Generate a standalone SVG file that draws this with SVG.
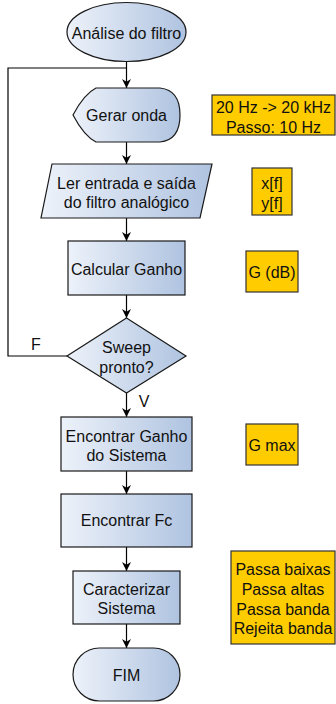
<svg xmlns="http://www.w3.org/2000/svg" width="336" height="704" viewBox="0 0 336 704">
<defs>
<linearGradient id="g" x1="0" y1="0" x2="1" y2="0">
<stop offset="0" stop-color="#edf2fa"/>
<stop offset="1" stop-color="#afc3e0"/>
</linearGradient>
<marker id="arr" viewBox="0 0 10 10" refX="10" refY="5" markerWidth="10" markerHeight="9" markerUnits="userSpaceOnUse" orient="auto">
<path d="M0,0 L10,5 L0,10 L3,5 Z" fill="#000"/>
</marker>
<style>
.n{fill:url(#g);stroke:#1a1a1a;stroke-width:1.2}
.o{fill:#ffcc00;stroke:#333;stroke-width:1.2}
text{font-family:"Liberation Sans",Arial,sans-serif;font-size:16px;fill:#111;text-anchor:middle}
.c{fill:none;stroke:#000;stroke-width:1.2}
</style>
</defs>
<g id="connectors">
<path class="c" d="M126.5,61.5 V88" marker-end="url(#arr)"/>
<path class="c" d="M126.5,142 V164" marker-end="url(#arr)"/>
<path class="c" d="M126.5,218 V241" marker-end="url(#arr)"/>
<path class="c" d="M126.5,295 V318" marker-end="url(#arr)"/>
<path class="c" d="M67,356 H8 V68 H126.5"/>
<path class="c" d="M126.5,393 V417" marker-end="url(#arr)"/>
<path class="c" d="M126.5,471 V494" marker-end="url(#arr)"/>
<path class="c" d="M126.5,547 V571" marker-end="url(#arr)"/>
<path class="c" d="M126.5,624 V648" marker-end="url(#arr)"/>
<text x="36" y="350">F</text>
<text x="144" y="407">V</text>
</g>
<g id="start">
<ellipse class="n" cx="126.5" cy="32" rx="59.5" ry="29.5"/>
<text x="126.5" y="39">Análise do filtro</text>
</g>
<g id="gerar">
<path class="n" d="M73,115 Q84,94 96,88 L160,88 Q180,90 180,115 Q180,140 160,142 L96,142 Q84,136 73,115 Z"/>
<text x="126.5" y="121">Gerar onda</text>
</g>
<g id="ler">
<path class="n" d="M52,164 L212,164 L200,218 L41,218 Z"/>
<text x="126.5" y="189">Ler entrada e saída</text>
<text x="126.5" y="208">do filtro analógico</text>
</g>
<g id="calcular">
<rect class="n" x="68" y="241" width="117" height="54"/>
<text x="126.5" y="275">Calcular Ganho</text>
</g>
<g id="sweep">
<path class="n" d="M126.5,318 L186,356 L126.5,393 L67,356 Z"/>
<text x="126.5" y="353">Sweep</text>
<text x="126.5" y="373">pronto?</text>
</g>
<g id="encontrarGanho">
<rect class="n" x="61" y="417" width="131" height="54"/>
<text x="126.5" y="442">Encontrar Ganho</text>
<text x="126.5" y="461">do Sistema</text>
</g>
<g id="encontrarFc">
<rect class="n" x="61" y="494" width="131" height="53"/>
<text x="126.5" y="526">Encontrar Fc</text>
</g>
<g id="caracterizar">
<rect class="n" x="73" y="571" width="107" height="53"/>
<text x="126.5" y="595">Caracterizar</text>
<text x="126.5" y="614">Sistema</text>
</g>
<g id="fim">
<rect class="n" x="73" y="648" width="107" height="53" rx="26.5"/>
<text x="126.5" y="681">FIM</text>
</g>
<g id="note1">
<rect class="o" x="212" y="95" width="123" height="40"/>
<text x="273.5" y="113">20 Hz -&gt; 20 kHz</text>
<text x="273.5" y="133">Passo: 10 Hz</text>
</g>
<g id="note2">
<rect class="o" x="252" y="168" width="40" height="47"/>
<text x="272" y="189">x[f]</text>
<text x="272" y="209">y[f]</text>
</g>
<g id="note3">
<rect class="o" x="246" y="251" width="52" height="41"/>
<text x="272" y="278">G (dB)</text>
</g>
<g id="note4">
<rect class="o" x="246" y="424" width="52" height="41"/>
<text x="272" y="451">G max</text>
</g>
<g id="note5">
<rect class="o" x="231" y="551" width="104" height="93"/>
<text x="283" y="575">Passa baixas</text>
<text x="283" y="595">Passa altas</text>
<text x="283" y="615">Passa banda</text>
<text x="283" y="634">Rejeita banda</text>
</g>
</svg>
